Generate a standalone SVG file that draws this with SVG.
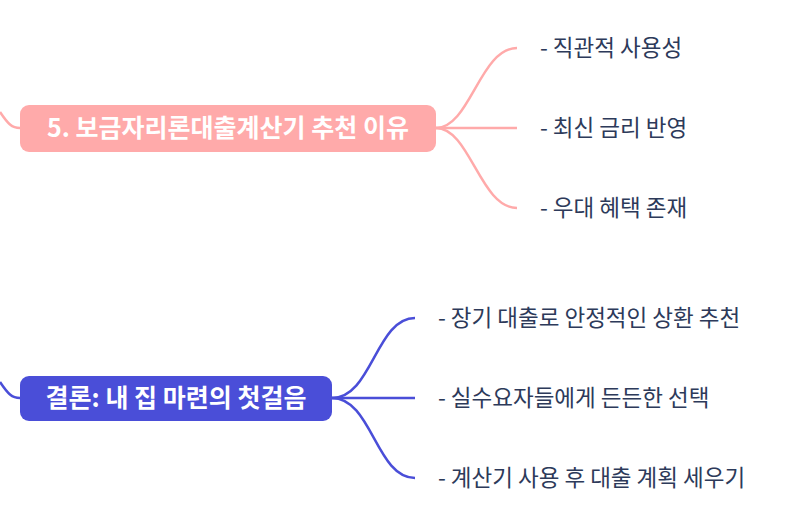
<svg xmlns="http://www.w3.org/2000/svg" width="800" height="515" viewBox="0 0 800 515">
<style>
.t{font-family:"Noto Sans CJK KR","Noto Sans",sans-serif;font-size:22.5px;fill:#2d3a5a}
.h{font-family:"Noto Sans CJK KR","Noto Sans",sans-serif;font-size:25px;font-weight:bold;fill:#fff;text-anchor:middle}
.p{fill:none;stroke:#ffaaaa;stroke-width:2.5}
.b{fill:none;stroke:#4a4ed8;stroke-width:2.5}
</style>
<rect width="800" height="515" fill="#fff"/>
<g id="connectors">
<path class="p" d="M0,112 C8,124 12,128 20,128"/>
<path class="p" d="M436,128 C470,128 480,48 517,48"/>
<path class="p" d="M436,128 L517,128"/>
<path class="p" d="M436,128 C470,128 480,208 517,208"/>
<path class="b" d="M0,382 C8,394 12,398 20,398"/>
<path class="b" d="M332,398 C372,398 376,318 415,318"/>
<path class="b" d="M332,398 L415,398"/>
<path class="b" d="M332,398 C372,398 376,478 415,478"/>
</g>
<g id="n1"><rect x="20" y="105" width="416" height="47" rx="9" fill="#ffaaaa"/><text class="h" x="228" y="137">5. 보금자리론대출계산기 추천 이유</text></g>
<g id="n1a"><text class="t" x="540" y="56">- 직관적 사용성</text></g>
<g id="n1b"><text class="t" x="540" y="136">- 최신 금리 반영</text></g>
<g id="n1c"><text class="t" x="540" y="216">- 우대 혜택 존재</text></g>
<g id="n2"><rect x="20" y="376" width="312" height="45" rx="9" fill="#4a4ed8"/><text class="h" x="176" y="407">결론: 내 집 마련의 첫걸음</text></g>
<g id="n2a"><text class="t" x="438" y="326">- 장기 대출로 안정적인 상환 추천</text></g>
<g id="n2b"><text class="t" x="438" y="406">- 실수요자들에게 든든한 선택</text></g>
<g id="n2c"><text class="t" x="438" y="486">- 계산기 사용 후 대출 계획 세우기</text></g>
</svg>
